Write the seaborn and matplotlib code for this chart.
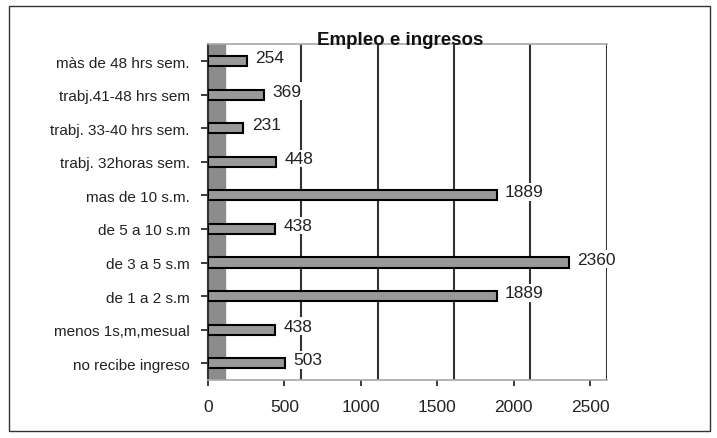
import matplotlib
matplotlib.use("Agg")
import matplotlib.pyplot as plt
import seaborn as sns
import pandas as pd
from matplotlib.patches import Rectangle

# datos (de arriba hacia abajo)
categorias = ["màs de 48 hrs sem.", "trabj.41-48 hrs sem", "trabj. 33-40 hrs sem.",
              "trabj. 32horas sem.", "mas de 10 s.m.", "de 5 a 10 s.m",
              "de 3 a 5 s.m", "de 1 a 2 s.m", "menos 1s,m,mesual", "no recibe ingreso"]
valores = [254, 369, 231, 448, 1889, 438, 2360, 1889, 438, 503]
ticks_x = [0, 500, 1000, 1500, 2000, 2500]

df = pd.DataFrame({"cat": categorias, "val": valores})

sns.set_theme(style="white")
plt.rcParams["font.family"] = ["Liberation Sans", "DejaVu Sans"]

fig = plt.figure(figsize=(7.17, 4.39), dpi=100)
ax = fig.add_axes([0.290, 0.132, 0.5563, 0.765])

# pared gris de la izquierda (estilo 3D de Excel)
ax.axvspan(0, 110, color="#8c8c8c", zorder=0)

sns.barplot(data=df, x="val", y="cat", orient="h", color="#999999",
            edgecolor="black", linewidth=1.5, width=0.3, saturation=1, ax=ax, zorder=3)

# lineas de division desplazadas (perspectiva)
for x in ticks_x[1:]:
    ax.axvline(x + 110, color="#333333", lw=1.5, zorder=1)

for i, v in enumerate(valores):
    ax.text(v + 55, i - 0.1, str(v), va="center", ha="left", fontsize=12.5,
            color="#222222", zorder=4,
            bbox=dict(facecolor="white", edgecolor="none", pad=1))

ax.set_xlim(0, 2610)
ax.set_ylim(9.5, -0.5)
ax.set_xticks(ticks_x)
ax.set_xlabel("")
ax.set_ylabel("")
ax.tick_params(axis="x", labelsize=12.5, colors="#222222", length=4, direction="out",
               bottom=True, pad=10)
ax.tick_params(axis="y", labelsize=11, colors="#222222", length=5, direction="out",
               left=True, pad=8)
ax.spines["right"].set_visible(False)
ax.spines["top"].set_color("#aaaaaa")
ax.spines["bottom"].set_color("#aaaaaa")
ax.spines["left"].set_color("#333333")
ax.spines["left"].set_linewidth(1.5)

fig.text(0.558, 0.907, "Empleo e ingresos", ha="center", va="center",
         fontsize=13.5, fontweight="bold", color="#111111")

# marco exterior
fig.patches.append(Rectangle((0.012, 0.015), 0.978, 0.97, transform=fig.transFigure,
                             fill=False, edgecolor="#333333", lw=1))

fig.savefig("out.png", dpi=100)
